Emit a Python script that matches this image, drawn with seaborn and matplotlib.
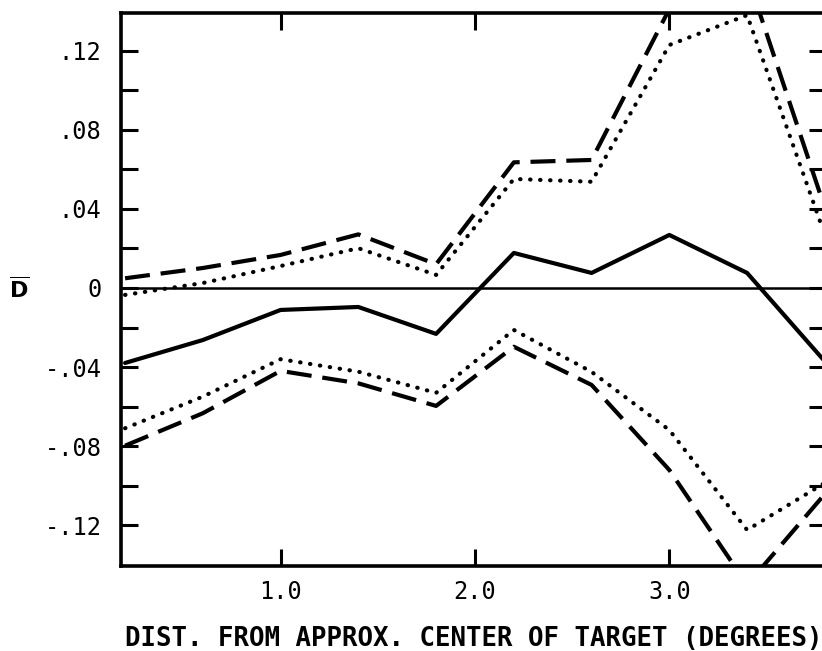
import matplotlib
matplotlib.use("Agg")
import matplotlib.pyplot as plt
import numpy as np
import pandas as pd
import seaborn as sns

# distancia en grados
dist = [0.2, 0.6, 1.0, 1.4, 1.8, 2.2, 2.6, 3.0, 3.4, 3.8]

d_mean = [-0.0379, -0.0263, -0.0111, -0.0096, -0.0232, 0.0177, 0.0076, 0.0268, 0.0076, -0.0371]
upper_dash = [0.0049, 0.0101, 0.0167, 0.0271, 0.0120, 0.0635, 0.0647, 0.141, 0.158, 0.0404]
upper_dot = [-0.0035, 0.0025, 0.0111, 0.0201, 0.0066, 0.0551, 0.0537, 0.1228, 0.1379, 0.0268]
lower_dot = [-0.0709, -0.0549, -0.0360, -0.0423, -0.0530, -0.0212, -0.0424, -0.0718, -0.1223, -0.0985]
lower_dash = [-0.0797, -0.0633, -0.0419, -0.0482, -0.0596, -0.0297, -0.0490, -0.0920, -0.150, -0.1041]

y_ticks = [-0.12, -0.08, -0.04, 0, 0.04, 0.08, 0.12]
y_labels = ["-.12", "-.08", "-.04", "0", ".04", ".08", ".12"]
x_ticks = [1.0, 2.0, 3.0]
x_labels = ["1.0", "2.0", "3.0"]

sns.set_theme(style="ticks")
plt.rcParams["font.family"] = ["DejaVu Sans Mono", "DejaVu Sans"]
plt.rcParams["mathtext.fontset"] = "dejavusans"
plt.rcParams["text.color"] = "black"
plt.rcParams["axes.labelcolor"] = "black"
plt.rcParams["xtick.color"] = "black"
plt.rcParams["ytick.color"] = "black"

fig = plt.figure(figsize=(8.22, 6.51), dpi=100)
ax = fig.add_axes([0.1472, 0.1306, 0.8577, 0.8495])

lw = 3.0
dash = (0, (6, 2.6))
dot = (0, (0.1, 2.3))

sns.lineplot(x=dist, y=d_mean, ax=ax, color="black", lw=lw, linestyle="-")
sns.lineplot(x=dist, y=upper_dash, ax=ax, color="black", lw=lw, linestyle=dash)
sns.lineplot(x=dist, y=lower_dash, ax=ax, color="black", lw=lw, linestyle=dash)
sns.lineplot(x=dist, y=upper_dot, ax=ax, color="black", lw=lw, linestyle=dot,
             dash_capstyle="round")
sns.lineplot(x=dist, y=lower_dot, ax=ax, color="black", lw=lw, linestyle=dot,
             dash_capstyle="round")

# linea de cero
ax.axhline(0, color="black", lw=1.8)

ax.set_xlim(0.179, 3.806)
ax.set_ylim(-0.1405, 0.139)

ax.set_xticks(x_ticks)
ax.set_xticklabels(x_labels, fontsize=17)
ax.set_yticks(y_ticks)
ax.set_yticklabels(y_labels, fontsize=17)
ax.set_yticks(np.arange(-0.12, 0.13, 0.02), minor=True)
ax.tick_params(axis="both", which="both", direction="in", length=12, width=2.2,
               top=True, right=True, color="black", labelcolor="black")
ax.tick_params(axis="y", which="both", pad=14)
ax.tick_params(axis="x", which="both", pad=10)
ax.tick_params(axis="x", which="minor", length=0)

for s in ax.spines.values():
    s.set_linewidth(2.6)
    s.set_color("black")

ax.set_xlabel("DIST. FROM APPROX. CENTER OF TARGET (DEGREES)", fontsize=18.5,
              fontweight="bold", labelpad=16, color="black")
fig.text(0.023, (651 - 289) / 651, r"$\mathbf{\overline{D}}$", fontsize=16,
         ha="center", va="center", color="black")

fig.savefig("out.png", dpi=100, facecolor="white")
